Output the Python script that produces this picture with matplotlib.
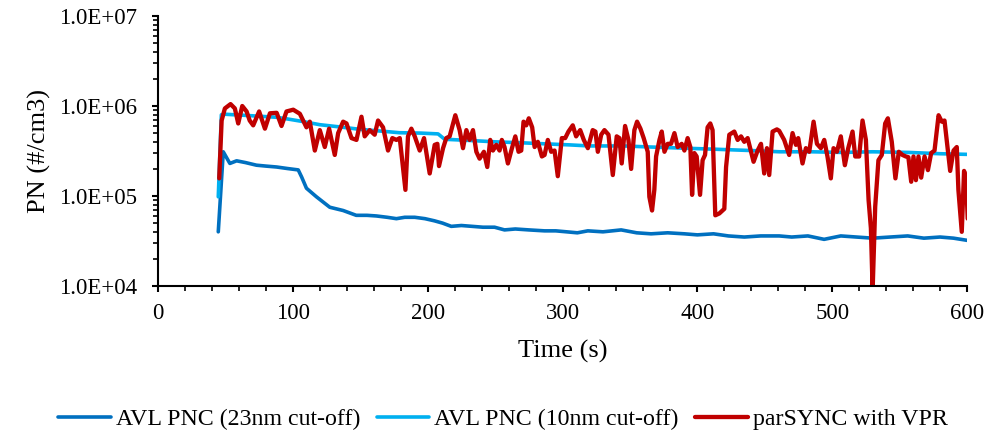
import matplotlib
matplotlib.use("Agg")
import matplotlib.pyplot as plt
from matplotlib.ticker import LogLocator, FixedLocator, MultipleLocator, NullFormatter, FuncFormatter
import math

plt.rcParams['font.family'] = ['Liberation Serif', 'DejaVu Serif']

# ---- data ----
t_23 = [44.7, 48.4, 53.3, 58.3, 65, 73, 80, 88, 96, 104, 106.5, 110.1, 117.5, 127.4, 137.3, 147,
        155, 162, 170, 176.8, 183, 190.4, 198, 205, 211, 217.5, 225, 233, 241, 249.6, 257, 265,
        275, 286.7, 295, 303, 311, 318.8, 330, 343.5, 355, 365.7, 378, 390.4, 400, 412, 423,
        434.8, 447, 460.7, 470, 482, 494, 506.4, 518, 530, 543, 556, 568, 580, 590, 601]
v_23 = [4.0e4, 3.1e5, 2.3e5, 2.46e5, 2.35e5, 2.2e5, 2.15e5, 2.1e5, 2.02e5, 1.95e5, 1.63e5, 1.22e5,
        9.8e4, 7.5e4, 6.9e4, 6.1e4, 6.1e4, 6.0e4, 5.8e4, 5.6e4, 5.8e4, 5.8e4, 5.6e4, 5.3e4, 5.0e4,
        4.6e4, 4.7e4, 4.6e4, 4.5e4, 4.5e4, 4.2e4, 4.3e4, 4.2e4, 4.1e4, 4.1e4, 4.0e4, 3.9e4, 4.1e4,
        4.0e4, 4.2e4, 3.9e4, 3.8e4, 3.9e4, 3.8e4, 3.7e4, 3.8e4, 3.6e4, 3.5e4, 3.6e4, 3.6e4, 3.5e4,
        3.6e4, 3.3e4, 3.6e4, 3.5e4, 3.4e4, 3.5e4, 3.6e4, 3.4e4, 3.5e4, 3.4e4, 3.2e4]

t_10 = [44.7, 47, 50, 56, 63, 75, 88, 98, 108, 120, 137.3, 150, 169.4, 179, 195, 207.7, 212.6,
        230, 250, 270, 287, 305, 320, 345, 366, 390, 415.6, 440, 461, 485, 507, 530, 556.6, 580, 601]
v_10 = [9.8e4, 8.0e5, 8.1e5, 8.0e5, 7.9e5, 7.7e5, 7.5e5, 7.1e5, 6.7e5, 6.2e5, 5.8e5, 5.5e5, 5.2e5,
        5.05e5, 5.0e5, 4.9e5, 4.27e5, 4.15e5, 4.0e5, 3.9e5, 3.8e5, 3.7e5, 3.6e5, 3.6e5, 3.5e5, 3.4e5,
        3.3e5, 3.2e5, 3.1e5, 3.1e5, 3.05e5, 3.1e5, 3.05e5, 2.95e5, 2.9e5]

t_vpr = [45.4, 47.2, 49.6, 53.8, 57, 59.5, 62.5, 65.7, 68, 70.6, 75, 79.3, 83, 88, 91.6, 95.3,
         100.3, 105.2, 110.1, 112.6, 116.3, 120, 123.7, 126.9, 131.1, 133.6, 137.3, 139.8, 143.5,
         147.2, 150.9, 153.3, 157, 160.7, 163.2, 166.9, 170.6, 173.8, 176.8, 179.3, 183.5, 185.4,
         187.9, 190.4, 194.1, 197.3, 201.5, 205.2, 207.2, 208.4, 211.4, 213.8, 216.3, 220.5, 223.7,
         226.2, 228.7, 231.1, 233.6, 236.1, 238.5, 241.7, 244.2, 246.4, 248.4, 250.9, 253.3, 255,
         257, 259.5, 262.5, 265, 267.4, 269.4, 271.1, 273.1, 275, 277.5, 279.3, 281.7, 284.7, 286.7,
         289.1, 291.6, 294.1, 296.5, 299.5, 302, 304.4, 307.6, 310.1, 313.1, 315.8, 318.8, 322.4,
         324.4, 326.2, 328.7, 331.1, 334.1, 337.3, 340.2, 342.2, 343.9, 346.4, 348.9, 350.9, 353.3,
         355.3, 357.8, 360.2, 363.2, 364.4, 366.4, 368.1, 369.4, 371.9, 373.6, 375.6, 378, 380.5,
         383, 385.4, 388.4, 390.4, 392.8, 394.8, 396.1, 397.8, 399.5, 402, 403.9, 405.7, 407.6,
         409.6, 411.3, 413.3, 416.3, 420, 421.3, 423.7, 427.4, 429.9, 432.4, 434.8, 437.3, 439.8,
         441.7, 444.7, 447.2, 449.6, 451.6, 453.3, 455.8, 459.0, 460.7, 464.4, 468.1, 470.6, 473.1,
         474.8, 478, 480.5, 483, 486.2, 488.7, 491.6, 494.1, 496.5, 499, 501, 503.5, 506.4, 509.4,
         511.9, 515.1, 517.1, 520, 522.5, 525, 527, 528.7, 530, 531.9, 534.3, 536.8, 539.3, 541.3,
         544.2, 546.9, 549.4, 552.1, 554.6, 556.5, 558.6, 560.3, 562.1, 564, 566, 568.5, 571, 573.4,
         575.9, 578.9, 581.3, 583.3, 585.8, 587.5, 590, 592.4, 593.6, 596.1, 597.8, 599.3, 600.5]
v_vpr = [1.57e5, 6.9e5, 9.4e5, 1.05e6, 9.4e5, 6.4e5, 1.0e6, 8.7e5, 6.9e5, 6.1e5, 8.7e5, 5.6e5,
         8.3e5, 8.4e5, 6.0e5, 8.7e5, 9.1e5, 8.2e5, 5.8e5, 6.7e5, 3.2e5, 5.4e5, 3.5e5, 5.6e5, 2.86e5,
         5.0e5, 6.7e5, 6.4e5, 4.4e5, 4.2e5, 7.6e5, 4.6e5, 5.4e5, 4.8e5, 6.9e5, 5.8e5, 3.2e5, 4.4e5,
         4.2e5, 4.4e5, 1.17e5, 4.6e5, 5.6e5, 4.6e5, 3.2e5, 4.4e5, 1.78e5, 3.7e5, 3.8e5, 2.15e5,
         3.4e5, 4.4e5, 4.6e5, 7.9e5, 5.4e5, 3.4e5, 5.4e5, 4.2e5, 5.4e5, 3.1e5, 2.6e5, 3.1e5, 2.1e5,
         4.2e5, 3.2e5, 3.7e5, 3.2e5, 4.2e5, 3.5e5, 2.3e5, 3.4e5, 4.6e5, 3.1e5, 3.2e5, 6.7e5, 6.1e5,
         7.3e5, 5.8e5, 3.5e5, 4.0e5, 2.75e5, 2.86e5, 4.2e5, 3.1e5, 3.2e5, 1.66e5, 4.4e5, 4.4e5,
         5.2e5, 6.1e5, 4.6e5, 5.4e5, 4.2e5, 3.4e5, 5.4e5, 5.2e5, 3.1e5, 4.8e5, 5.4e5, 4.8e5, 1.71e5,
         4.6e5, 4.4e5, 2.3e5, 6.0e5, 4.2e5, 2.0e5, 5.4e5, 6.7e5, 5.6e5, 4.4e5, 3.1e5, 9.8e4, 6.9e4,
         1.17e5, 2.75e5, 4.2e5, 5.2e5, 3.1e5, 3.8e5, 3.8e5, 5.0e5, 3.5e5, 3.8e5, 3.2e5, 4.4e5,
         3.5e5, 1.03e5, 3.0e5, 2.75e5, 1.03e5, 2.5e5, 2.86e5, 5.8e5, 6.4e5, 5.4e5, 6.1e4, 6.4e4,
         7.2e4, 2.1e5, 4.8e5, 5.2e5, 4.2e5, 4.6e5, 4.0e5, 4.4e5, 3.1e5, 2.4e5, 3.2e5, 3.8e5,
         1.78e5, 3.4e5, 1.71e5, 5.2e5, 5.5e5, 5.3e5, 4.2e5, 2.86e5, 5.0e5, 3.7e5, 4.4e5, 2.3e5,
         3.4e5, 3.1e5, 6.7e5, 3.8e5, 3.4e5, 4.2e5, 2.75e5, 1.57e5, 3.4e5, 3.1e5, 4.6e5, 2.2e5,
         3.4e5, 5.2e5, 2.75e5, 2.75e5, 6.9e5, 4.2e5, 9.0e4, 4.4e4, 9.0e3, 7.6e4, 2.5e5, 2.86e5,
         6.4e5, 7.3e5, 4.0e5, 1.57e5, 3.1e5, 2.86e5, 2.75e5, 2.7e5, 1.44e5, 2.75e5, 1.5e5, 2.75e5,
         1.6e5, 2.75e5, 1.94e5, 3.0e5, 3.2e5, 7.9e5, 6.7e5, 6.9e5, 3.2e5, 1.9e5, 3.2e5, 3.5e5,
         1.17e5, 4.0e4, 1.9e5, 1.6e5, 5.6e4]

labels = ["AVL PNC (23nm cut-off)", "AVL PNC (10nm cut-off)", "parSYNC with VPR"]
colors = ["#0070C0", "#00B0F0", "#C00000"]

fig = plt.figure(figsize=(10.07, 4.33), dpi=100)
ax = fig.add_axes([0.1569, 0.3395, 0.8034, 0.6235])

ax.plot(t_23, v_23, color=colors[0], lw=2.6, label=labels[0], solid_joinstyle='round', solid_capstyle='round')
ax.plot(t_10, v_10, color=colors[1], lw=2.6, label=labels[1], solid_joinstyle='round', solid_capstyle='round')
ax.plot(t_vpr, v_vpr, color=colors[2], lw=3.1, label=labels[2], solid_joinstyle='round', solid_capstyle='round')

ax.set_yscale('log')
ax.set_ylim(1e4, 1e7)
ax.set_xlim(0, 600)
ax.xaxis.set_major_locator(MultipleLocator(100))
ax.xaxis.set_minor_locator(MultipleLocator(20))
ax.yaxis.set_major_locator(FixedLocator([1e4, 1e5, 1e6, 1e7]))
ax.yaxis.set_minor_locator(LogLocator(base=10, subs=range(2, 10)))
ax.yaxis.set_minor_formatter(NullFormatter())

def efmt(v, pos):
    e = int(round(math.log10(v)))
    return "1.0E+%02d" % e
ax.yaxis.set_major_formatter(FuncFormatter(efmt))

for s in ['top', 'right']:
    ax.spines[s].set_visible(False)
for s in ['left', 'bottom']:
    ax.spines[s].set_linewidth(1.5)

ax.tick_params(axis='both', which='major', direction='out', length=4.5, width=1.5, labelsize=16.5)
ax.tick_params(axis='both', which='minor', direction='out', length=3.5, width=1.2)
ax.tick_params(axis='x', which='major', pad=8)
ax.tick_params(axis='y', which='major', pad=10.5)

ax.set_xlabel("Time (s)", fontsize=19, labelpad=11)
ax.set_ylabel("PN (#/cm3)", fontsize=19, labelpad=6)

fig.legend(loc='center', bbox_to_anchor=(0.4995, 0.032), ncol=3, frameon=False,
           fontsize=17.2, handlelength=2.2, handletextpad=0.2, columnspacing=0.7)

fig.savefig("out.png", dpi=100)
